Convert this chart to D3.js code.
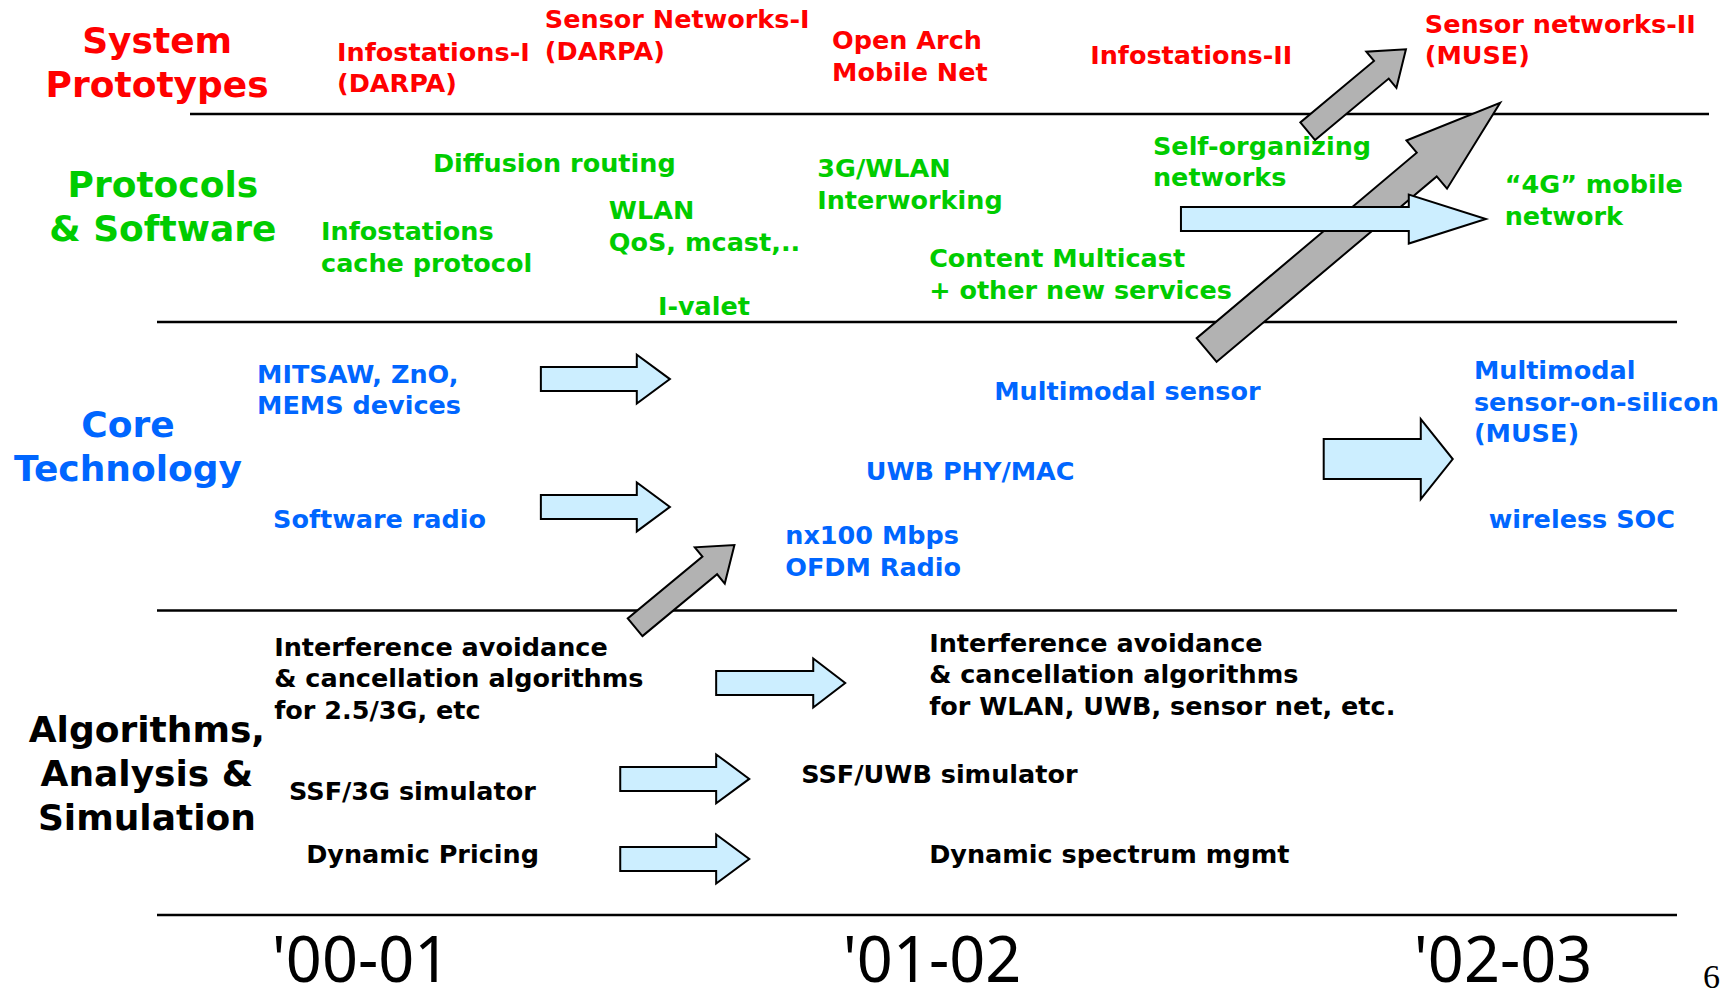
<!DOCTYPE html>
<html>
<head>
<meta charset="utf-8">
<script src="https://cdn.jsdelivr.net/npm/d3@7/dist/d3.min.js"></script>
<style>
  html, body { margin: 0; padding: 0; background: #fff; }
  svg { display: block; }
</style>
</head>
<body>
<svg id="roadmap"></svg>
<script>
// Timeline: x is time in years, y is position in "lane units" (0-4, one unit per lane)
const years = ["'00-01", "'01-02", "'02-03"];
const yearPos = [2000.5, 2001.5, 2002.5];

const laneNames = [
  ["System", "Prototypes"],
  ["Protocols", "& Software"],
  ["Core", "Technology"],
  ["Algorithms,", "Analysis &", "Simulation"]
];
const laneColors = ["#ff0000", "#00cc00", "#0066ff", "#000000"];
const laneTitleT = [2000.143, 2000.153, 2000.092, 2000.125];
const laneTitleV = [0.465, 1.399, 2.399, 3.432];
const laneBounds = [1, 2, 3, 4];

// milestone labels: lane, time, vertical pos, lines
const items = [
  { lane: 0, t: 2000.458, v: 0.535, lines: ["Infostations-I", "(DARPA)"] },
  { lane: 0, t: 2000.822, v: 0.246, lines: ["Sensor Networks-I", "(DARPA)"] },
  { lane: 0, t: 2001.325, v: 0.430, lines: ["Open Arch", "Mobile Net"] },
  { lane: 0, t: 2001.777, v: 0.561, lines: ["Infostations-II"] },
  { lane: 0, t: 2002.363, v: 0.289, lines: ["Sensor networks-II", "(MUSE)"] },

  { lane: 1, t: 2000.626, v: 1.279, lines: ["Diffusion routing"] },
  { lane: 1, t: 2000.430, v: 1.606, lines: ["Infostations", "cache protocol"] },
  { lane: 1, t: 2000.934, v: 1.505, lines: ["WLAN", "QoS, mcast,.."] },
  { lane: 1, t: 2001.020, v: 1.966, lines: ["I-valet"] },
  { lane: 1, t: 2001.299, v: 1.303, lines: ["3G/WLAN", "Interworking"] },
  { lane: 1, t: 2001.887, v: 1.197, lines: ["Self-organizing", "networks"] },
  { lane: 1, t: 2002.503, v: 1.380, lines: ["\u201c4G\u201d mobile", "network"] },
  { lane: 1, t: 2001.495, v: 1.736, lines: ["Content Multicast", "+ other new services"] },

  { lane: 2, t: 2000.318, v: 2.211, lines: ["MITSAW, ZnO,", "MEMS devices"] },
  { lane: 2, t: 2000.346, v: 2.714, lines: ["Software radio"] },
  { lane: 2, t: 2001.243, v: 2.770, lines: ["nx100 Mbps", "OFDM Radio"] },
  { lane: 2, t: 2001.384, v: 2.548, lines: ["UWB PHY/MAC"] },
  { lane: 2, t: 2001.609, v: 2.270, lines: ["Multimodal sensor"] },
  { lane: 2, t: 2002.449, v: 2.198, lines: ["Multimodal", "sensor-on-silicon", "(MUSE)"] },
  { lane: 2, t: 2002.475, v: 2.714, lines: ["wireless SOC"] },

  { lane: 3, t: 2000.348, v: 3.149, lines: ["Interference avoidance", "& cancellation algorithms", "for 2.5/3G, etc"] },
  { lane: 3, t: 2000.374, v: 3.622, lines: ["SSF/3G simulator"] },
  { lane: 3, t: 2000.404, v: 3.829, lines: ["Dynamic Pricing"] },
  { lane: 3, t: 2001.495, v: 3.136, lines: ["Interference avoidance", "& cancellation algorithms", "for WLAN, UWB, sensor net, etc."] },
  { lane: 3, t: 2001.271, v: 3.567, lines: ["SSF/UWB simulator"] },
  { lane: 3, t: 2001.495, v: 3.829, lines: ["Dynamic spectrum mgmt"] }
];

// horizontal "carry forward" arrows
const flowArrows = [
  { from: 2000.815, neck: 2000.983, to: 2001.041, v: 2.198, kind: "thin" },
  { from: 2000.815, neck: 2000.983, to: 2001.041, v: 2.641, kind: "thin" },
  { from: 2002.186, neck: 2002.356, to: 2002.412, v: 2.475, kind: "wide" },
  { from: 2001.936, neck: 2002.335, to: 2002.470, v: 1.505, kind: "thin" },
  { from: 2001.122, neck: 2001.292, to: 2001.348, v: 3.238, kind: "thin" },
  { from: 2000.954, neck: 2001.122, to: 2001.180, v: 3.553, kind: "thin" },
  { from: 2000.954, neck: 2001.122, to: 2001.180, v: 3.816, kind: "thin" }
];

// diagonal "feeds into" arrows between lanes
const liftArrows = [
  { t0: 2001.981, v0: 2.097, t1: 2002.495, v1: 0.901, kind: "large" },
  { t0: 2002.158, v0: 1.083, t1: 2002.330, v1: 0.432, kind: "small" },
  { t0: 2000.980, v0: 3.055, t1: 2001.154, v1: 2.773, kind: "small" }
];

const W = 1731, H = 1003;
const svg = d3.select("#roadmap").attr("width", W).attr("height", H);

const x = d3.scaleLinear().domain([2000.5, 2002.5]).range([361, 1503]);
const y = d3.scaleLinear().domain([0, 1, 2, 3, 4]).range([0, 114, 322, 610.5, 915]);

const bodyFont = "'DejaVu Sans', Verdana, sans-serif";

// Lane separator lines
svg.selectAll(".lane-line")
  .data(laneBounds)
  .enter()
  .append("line")
  .attr("class", "lane-line")
  .attr("x1", d => d === 1 ? 190 : 157)
  .attr("x2", d => d === 1 ? 1709 : 1677)
  .attr("y1", d => y(d))
  .attr("y2", d => y(d))
  .attr("stroke", "#000")
  .attr("stroke-width", 2.5);

// arrow outline from tail centre to tip
function arrowPath(x0, y0, x1, y1, w, hw, hl) {
  const dx = x1 - x0, dy = y1 - y0, len = Math.hypot(dx, dy);
  const ux = dx / len, uy = dy / len, nx = -uy, ny = ux;
  const bx = x1 - ux * hl, by = y1 - uy * hl;
  const p = [
    [x0 + nx * w / 2, y0 + ny * w / 2],
    [bx + nx * w / 2, by + ny * w / 2],
    [bx + nx * hw / 2, by + ny * hw / 2],
    [x1, y1],
    [bx - nx * hw / 2, by - ny * hw / 2],
    [bx - nx * w / 2, by - ny * w / 2],
    [x0 - nx * w / 2, y0 - ny * w / 2]
  ];
  return "M" + p.map(q => q.join(",")).join("L") + "Z";
}

const liftSize = { small: { w: 23, hw: 47, hl: 32 }, large: { w: 31, hw: 63, hl: 96 } };
const flowSize = { thin: { w: 24, hw: 49 }, wide: { w: 40, hw: 80 } };

svg.selectAll(".lift")
  .data(liftArrows)
  .enter()
  .append("path")
  .attr("class", "lift")
  .attr("d", d => {
    const s = liftSize[d.kind];
    return arrowPath(x(d.t0), y(d.v0), x(d.t1), y(d.v1), s.w, s.hw, s.hl);
  })
  .attr("fill", "#b2b2b2")
  .attr("stroke", "#000")
  .attr("stroke-width", 2)
  .attr("stroke-linejoin", "miter");

svg.selectAll(".flow")
  .data(flowArrows)
  .enter()
  .append("path")
  .attr("class", "flow")
  .attr("d", d => {
    const s = flowSize[d.kind];
    return arrowPath(x(d.from), y(d.v), x(d.to), y(d.v), s.w, s.hw, x(d.to) - x(d.neck));
  })
  .attr("fill", "#cceeff")
  .attr("stroke", "#000")
  .attr("stroke-width", 2);

// Lane titles
laneNames.forEach((lines, i) => {
  const t = svg.append("text")
    .attr("x", x(laneTitleT[i]))
    .attr("y", y(laneTitleV[i]))
    .attr("text-anchor", "middle")
    .attr("font-family", bodyFont)
    .attr("font-weight", "bold")
    .attr("font-size", 36)
    .attr("fill", laneColors[i]);
  t.selectAll("tspan")
    .data(lines)
    .enter()
    .append("tspan")
    .attr("x", x(laneTitleT[i]))
    .attr("dy", (d, j) => j === 0 ? 0 : 44)
    .text(d => d);
});

// Milestone labels
const labels = svg.selectAll(".item")
  .data(items)
  .enter()
  .append("text")
  .attr("class", "item")
  .attr("x", d => x(d.t))
  .attr("y", d => y(d.v))
  .attr("font-family", bodyFont)
  .attr("font-weight", "bold")
  .attr("font-size", 25.5)
  .attr("fill", d => laneColors[d.lane]);

labels.selectAll("tspan")
  .data(d => d.lines.map(l => ({ l, x: x(d.t) })))
  .enter()
  .append("tspan")
  .attr("x", d => d.x)
  .attr("dy", (d, j) => j === 0 ? 0 : 31.5)
  .text(d => d.l);

// Period labels along the bottom
svg.selectAll(".year")
  .data(years)
  .enter()
  .append("text")
  .attr("class", "year")
  .attr("x", (d, i) => x(yearPos[i]))
  .attr("y", 982)
  .attr("text-anchor", "middle")
  .attr("font-family", "'Noto Sans', sans-serif")
  .attr("font-size", 63)
  .attr("fill", "#000")
  .text(d => d);

// slide number
svg.append("text")
  .attr("x", 1703)
  .attr("y", 988)
  .attr("font-family", "'Liberation Serif', serif")
  .attr("font-size", 34)
  .text("6");
</script>
</body>
</html>
